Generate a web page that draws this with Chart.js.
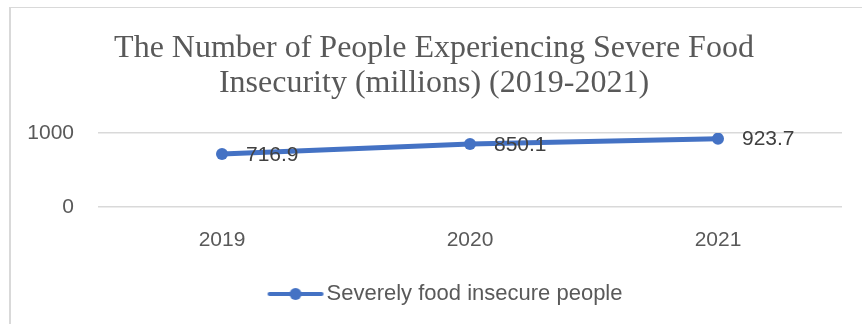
<!DOCTYPE html>
<html>
<head>
<meta charset="utf-8">
<script src="https://cdn.jsdelivr.net/npm/chart.js@4/dist/chart.umd.min.js"></script>
<style>
  html, body { margin: 0; padding: 0; background: #fff; }
  #wrap { position: relative; width: 862px; height: 324px; }
  #frame { position: absolute; left: 9px; top: 7px; right: 0; bottom: 0;
           border-top: 1px solid #d9d9d9; border-left: 2px solid #d9d9d9; pointer-events: none; }
</style>
</head>
<body>
<div id="wrap">
  <canvas id="chart" width="862" height="324"></canvas>
  <div id="frame"></div>
</div>
<script>
// chart data
const years = ['2019', '2020', '2021'];
const severelyInsecure = [716.9, 850.1, 923.7];
const yTicks = [0, 1000];
const chartTitle = ['The Number of People Experiencing Severe Food', 'Insecurity (millions) (2019-2021)'];
const seriesName = 'Severely food insecure people';

const blue = '#4472C4';
const grey = '#595959';
const sans = '"Liberation Sans", Arial, sans-serif';

// legend marker: line with dot in the middle
const marker = document.createElement('canvas');
marker.width = 58;
marker.height = 14;
(function () {
  const c = marker.getContext('2d');
  c.strokeStyle = blue;
  c.lineWidth = 4;
  c.lineCap = 'round';
  c.beginPath();
  c.moveTo(3, 7);
  c.lineTo(55, 7);
  c.stroke();
  c.fillStyle = blue;
  c.beginPath();
  c.arc(29, 7, 6, 0, Math.PI * 2);
  c.fill();
})();

// value labels to the right of each point
const valueLabels = {
  id: 'valueLabels',
  afterDatasetsDraw(chart) {
    const ctx = chart.ctx;
    const meta = chart.getDatasetMeta(0);
    ctx.save();
    ctx.font = '21px ' + sans;
    ctx.fillStyle = '#404040';
    ctx.textAlign = 'left';
    ctx.textBaseline = 'middle';
    meta.data.forEach((pt, i) => {
      ctx.fillText(chart.data.datasets[0].data[i].toFixed(1), pt.x + 24, pt.y + 1);
    });
    ctx.restore();
  }
};

// nudge title and legend a bit right, like the original
const boxShift = {
  id: 'boxShift',
  afterLayout(chart) {
    chart.legend.left += 28;
    chart.legend.right += 28;
    chart.titleBlock.left += 13;
    chart.titleBlock.right += 13;
  }
};

const ctx = document.getElementById('chart').getContext('2d');
new Chart(ctx, {
  type: 'line',
  data: {
    labels: years,
    datasets: [{
      label: seriesName,
      data: severelyInsecure,
      borderColor: blue,
      backgroundColor: blue,
      borderWidth: 5,
      pointRadius: 6,
      pointHoverRadius: 6,
      pointBackgroundColor: blue,
      pointBorderWidth: 0,
      tension: 0
    }]
  },
  options: {
    responsive: false,
    animation: false,
    layout: { padding: { left: 0, right: 20, top: 0, bottom: 9 } },
    plugins: {
      title: {
        display: true,
        text: chartTitle,
        color: grey,
        font: { family: '"Liberation Serif", "Times New Roman", serif', size: 32, weight: 'normal', lineHeight: 1.1 },
        padding: { top: 31, bottom: 31.6 }
      },
      legend: {
        position: 'bottom',
        labels: {
          usePointStyle: true,
          pointStyle: marker,
          pointStyleWidth: 40,
          color: grey,
          font: { family: sans, size: 22 },
          padding: 10
        }
      },
      tooltip: { enabled: false }
    },
    scales: {
      x: {
        offset: true,
        grid: { display: false, drawTicks: false },
        border: { display: false },
        ticks: { color: grey, font: { family: sans, size: 21 }, padding: 21 },
        afterFit(scale) { scale.height = 66; }
      },
      y: {
        min: yTicks[0],
        max: yTicks[yTicks.length - 1],
        afterBuildTicks(scale) { scale.ticks = yTicks.map(v => ({ value: v })); },
        grid: { color: '#d9d9d9', lineWidth: 1.5, drawTicks: false },
        border: { display: false },
        ticks: { color: grey, font: { family: sans, size: 21 }, padding: 24, callback: v => String(v) },
        afterFit(scale) { scale.width = 98; }
      }
    }
  },
  plugins: [valueLabels, boxShift]
});
</script>
</body>
</html>
